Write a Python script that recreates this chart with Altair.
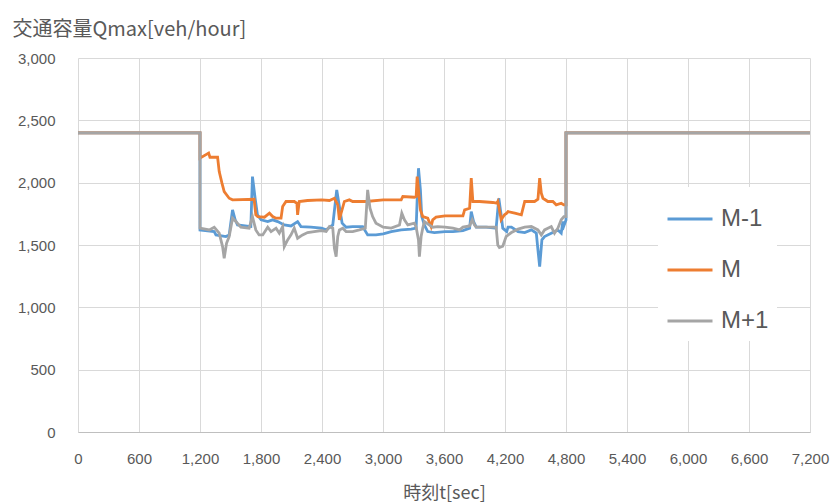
import altair as alt
import pandas as pd

# Traffic capacity per lane over time (t [sec], Qmax [veh/hour])
SERIES = ["M-1", "M", "M+1"]
COLORS = ["#5B9BD5", "#ED7D31", "#A5A5A5"]

M1_POINTS = [
    (0, 2400), (1200, 2400), (1200, 1621), (1340, 1608), (1357, 1581), (1455, 1568),
    (1487, 1581), (1520, 1782), (1546, 1702), (1569, 1661), (1700, 1648), (1716, 2049),
    (1742, 1875), (1765, 1742), (1801, 1702), (1866, 1688), (1915, 1702), (1964, 1688),
    (2029, 1661), (2095, 1653), (2160, 1688), (2193, 1648), (2291, 1643), (2395, 1635),
    (2441, 1621), (2506, 1661), (2545, 1942), (2571, 1809), (2598, 1675), (2637, 1643),
    (2702, 1648), (2800, 1648), (2849, 1581), (2931, 1581), (3002, 1589), (3081, 1608),
    (3179, 1621), (3277, 1627), (3326, 1635), (3336, 1862), (3349, 2116), (3368, 1942),
    (3381, 1728), (3407, 1661), (3440, 1608), (3505, 1600), (3610, 1608), (3688, 1608),
    (3786, 1616), (3852, 1635), (3868, 1768), (3891, 1688), (3917, 1643), (4015, 1643),
    (4113, 1635), (4139, 1875), (4162, 1742), (4178, 1635), (4217, 1608), (4230, 1643),
    (4263, 1643), (4328, 1608), (4394, 1600), (4459, 1621), (4508, 1595), (4524, 1461),
    (4541, 1327), (4563, 1541), (4589, 1568), (4655, 1595), (4720, 1621), (4753, 1595),
    (4769, 1688), (4779, 1653), (4800, 1700), (4800, 2400), (7200, 2400),
]

M_POINTS = [
    (0, 2400), (1200, 2400), (1200, 2197), (1285, 2237), (1298, 2204), (1373, 2204),
    (1389, 2089), (1416, 1996), (1438, 1929), (1487, 1875), (1520, 1862), (1732, 1867),
    (1749, 1742), (1768, 1728), (1834, 1723), (1883, 1755), (1915, 1728), (1948, 1715),
    (1997, 1715), (2013, 1809), (2046, 1849), (2127, 1849), (2153, 1835), (2160, 1742),
    (2176, 1849), (2258, 1857), (2395, 1862), (2473, 1857), (2522, 1875), (2555, 1822),
    (2571, 1702), (2588, 1755), (2620, 1849), (2669, 1862), (2702, 1849), (2833, 1849),
    (3002, 1862), (3179, 1862), (3195, 1889), (3309, 1883), (3326, 1889), (3336, 2049),
    (3349, 1942), (3368, 1782), (3391, 1728), (3440, 1715), (3473, 1648), (3489, 1702),
    (3522, 1723), (3610, 1734), (3721, 1734), (3786, 1734), (3803, 1782), (3852, 1795),
    (3868, 2036), (3884, 1849), (3949, 1849), (4080, 1841), (4119, 1835), (4129, 1849),
    (4145, 1782), (4162, 1702), (4195, 1742), (4217, 1755), (4230, 1768), (4296, 1755),
    (4361, 1742), (4394, 1849), (4491, 1849), (4524, 1867), (4541, 2036), (4557, 1916),
    (4573, 1875), (4622, 1849), (4671, 1849), (4704, 1822), (4753, 1835), (4779, 1822),
    (4800, 1822), (4800, 2400), (7200, 2400),
]

M2_POINTS = [
    (0, 2400), (1200, 2400), (1200, 1635), (1291, 1621), (1340, 1643), (1389, 1595),
    (1422, 1487), (1438, 1394), (1461, 1514), (1487, 1568), (1520, 1715), (1553, 1688),
    (1602, 1643), (1683, 1635), (1716, 1728), (1749, 1621), (1781, 1581), (1817, 1581),
    (1866, 1643), (1899, 1608), (1948, 1635), (1980, 1595), (2013, 1648), (2029, 1487),
    (2062, 1541), (2095, 1581), (2127, 1635), (2160, 1554), (2209, 1581), (2258, 1600),
    (2323, 1608), (2395, 1616), (2441, 1608), (2473, 1648), (2506, 1635), (2522, 1474),
    (2539, 1407), (2555, 1568), (2571, 1621), (2604, 1635), (2637, 1608), (2702, 1608),
    (2767, 1621), (2826, 1635), (2849, 1942), (2872, 1795), (2898, 1728), (2931, 1675),
    (3002, 1643), (3081, 1635), (3162, 1661), (3185, 1755), (3211, 1702), (3244, 1661),
    (3309, 1675), (3326, 1643), (3349, 1541), (3358, 1407), (3375, 1568), (3391, 1635),
    (3407, 1688), (3440, 1669), (3489, 1643), (3538, 1648), (3610, 1643), (3688, 1635),
    (3754, 1621), (3786, 1643), (3852, 1653), (3878, 1702), (3900, 1661), (3917, 1643),
    (4015, 1643), (4113, 1643), (4129, 1500), (4145, 1480), (4178, 1490), (4211, 1568),
    (4263, 1600), (4328, 1627), (4394, 1643), (4459, 1648), (4524, 1621), (4557, 1581),
    (4589, 1621), (4655, 1648), (4687, 1595), (4720, 1635), (4753, 1702), (4779, 1728),
    (4800, 1728), (4800, 2400), (7200, 2400),
]

X_TICKS = list(range(0, 7201, 600))
Y_TICKS = list(range(0, 3001, 500))

rows = []
for name, pts in zip(SERIES, [M1_POINTS, M_POINTS, M2_POINTS]):
    for i, (t, q) in enumerate(pts):
        rows.append({"series": name, "idx": i, "t": t, "q": q})
df = pd.DataFrame(rows)

LABEL_FONT = "'Liberation Sans Narrow', 'Liberation Sans', sans-serif"
CJK_FONT = "'Noto Sans CJK JP', sans-serif"
TEXT_GRAY = "#595959"

x_enc = alt.X(
    "t:Q",
    scale=alt.Scale(domain=[0, 7200], nice=False),
    axis=alt.Axis(
        values=X_TICKS, format=",.0f", title="時刻t[sec]",
        grid=True, gridColor="#D9D9D9", gridWidth=1,
        domain=True, domainColor="#BFBFBF", domainWidth=1.2,
        ticks=False, labelPadding=19, labelFontSize=15, labelFont=LABEL_FONT,
        labelColor=TEXT_GRAY, labelFlush=False,
        titleFont=CJK_FONT, titleFontSize=18, titleFontWeight="normal",
        titleColor=TEXT_GRAY, titleY=61, titleBaseline="middle",
    ),
)
y_enc = alt.Y(
    "q:Q",
    scale=alt.Scale(domain=[0, 3000], nice=False),
    axis=alt.Axis(
        values=Y_TICKS, format=",.0f", title="交通容量Qmax[veh/hour]",
        grid=True, gridColor="#D9D9D9", gridWidth=1,
        domain=False, ticks=False, labelPadding=23, labelFontSize=15,
        labelFont="'Liberation Sans', sans-serif", labelColor=TEXT_GRAY,
        titleFont=CJK_FONT, titleFontSize=20, titleFontWeight="normal",
        titleColor=TEXT_GRAY, titleAngle=0, titleAlign="left",
        titleBaseline="alphabetic", titleX=-66, titleY=-23,
    ),
)
color_enc = alt.Color(
    "series:N",
    scale=alt.Scale(domain=SERIES, range=COLORS),
    legend=alt.Legend(
        title=None, orient="none", legendX=580, legendY=129,
        fillColor="white", padding=8, symbolType="stroke",
        symbolSize=2025, symbolStrokeWidth=3, labelFontSize=24,
        labelFont="'Liberation Sans', sans-serif", labelColor=TEXT_GRAY,
        labelOffset=7, rowPadding=15,
    ),
)

layers = [
    alt.Chart(df)
    .transform_filter(alt.datum.series == name)
    .mark_line(strokeWidth=2.8)
    .encode(x=x_enc, y=y_enc, color=color_enc, order="idx:Q")
    for name in SERIES
]

chart = (
    alt.layer(*layers)
    .properties(
        width=732, height=374,
        autosize=alt.AutoSizeParams(type="none"),
        padding={"left": 78, "top": 58, "right": 24, "bottom": 71},
        background="white",
    )
    .configure_view(stroke=None)
)

chart.save("out.html", embed_options={"renderer": "svg", "actions": False})
